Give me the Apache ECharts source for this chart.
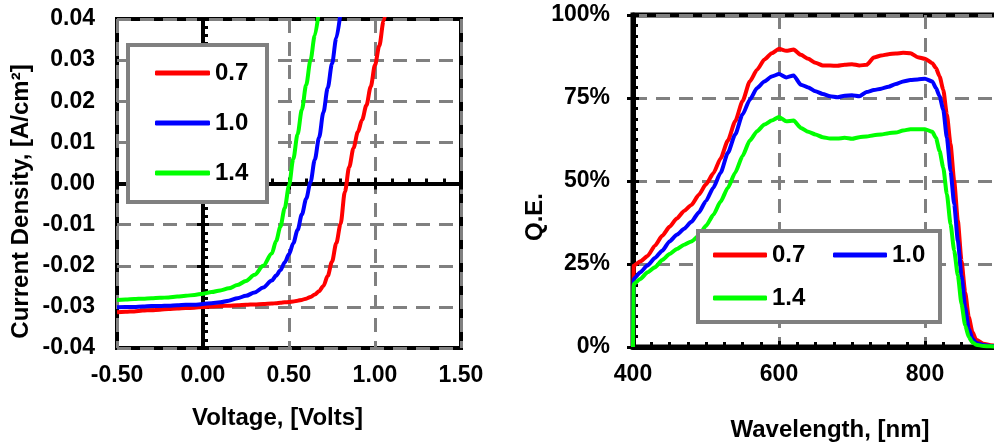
<!DOCTYPE html>
<html>
<head>
<meta charset="utf-8">
<script src="https://cdn.jsdelivr.net/npm/echarts@6/dist/echarts.min.js"></script>
<style>
html,body{margin:0;padding:0;background:#fff;}
#chart{width:994px;height:445px;}
</style>
</head>
<body>
<div id="chart"></div>
<script>
// ---------- Left chart: J-V curves ----------
const voltage = [-0.5,-0.45,-0.4,-0.35,-0.3,-0.25,-0.2,-0.15,-0.1,-0.05,0,0.05,0.1,0.15,0.2,0.25,0.3,0.35,0.4,
  0.425,0.45,0.475,0.5,0.525,0.55,0.575,0.6,0.625,0.65,0.675,0.7,0.725,0.75,0.775,0.8,0.825,0.85,0.875,0.9,0.925,0.95,0.975,1.0,1.025,1.05,1.075];
const jv07 = [-0.0313,-0.0312,-0.0311,-0.0309,-0.0308,-0.0307,-0.0305,-0.0304,-0.0303,-0.0302,-0.0300,-0.0299,-0.0298,-0.0297,-0.0296,-0.0295,-0.0294,-0.0293,-0.0292,
  -0.0291,-0.0290,-0.0289,-0.0288,-0.0287,-0.0285,-0.0283,-0.0280,-0.0276,-0.0270,-0.0262,-0.0249,-0.0225,-0.0190,-0.0145,-0.0098,-0.0020,0.0040,0.0086,0.0125,0.0155,0.0190,0.0235,0.0288,0.0335,0.0395,0.0450];
const jv10 = [-0.0301,-0.0300,-0.0300,-0.0299,-0.0298,-0.0298,-0.0297,-0.0296,-0.0295,-0.0295,-0.0293,-0.0291,-0.0289,-0.0285,-0.0279,-0.0273,-0.0265,-0.0253,-0.0236,
  -0.0224,-0.0211,-0.0192,-0.0172,-0.0145,-0.0113,-0.0075,-0.0037,0.0003,0.0058,0.0112,0.0173,0.0232,0.0291,0.0354,0.0418,null,null,null,null,null,null,null,null,null,null,null];
const jv14 = [-0.0283,-0.0282,-0.0281,-0.0280,-0.0279,-0.0278,-0.0277,-0.0275,-0.0273,-0.0271,-0.0268,-0.0264,-0.0260,-0.0255,-0.0247,-0.0237,-0.0222,-0.0200,-0.0170,
  -0.0140,-0.0105,-0.0060,-0.0005,0.0060,0.0120,0.0180,0.0240,0.0300,0.0360,0.0425,null,null,null,null,null,null,null,null,null,null,null,null,null,null,null,null];

// ---------- Right chart: quantum efficiency ----------
const wavelength = [400,401,410,420,430,440,450,460,470,480,490,500,510,520,530,540,550,560,570,580,590,600,610,620,630,640,650,660,670,680,690,700,710,720,730,740,750,760,770,780,790,800,810,
  815,820,825,830,835,840,845,850,855,860,865,870,880,890,900];
const qe07 = [0,0.245,0.258,0.274,0.305,0.335,0.362,0.387,0.410,0.428,0.458,0.490,0.523,0.568,0.622,0.680,0.740,0.800,0.835,0.866,0.885,0.898,0.892,0.896,0.880,0.868,0.856,0.848,0.848,0.847,0.850,0.852,0.848,0.850,0.872,0.878,0.882,0.884,0.886,0.885,0.873,0.868,0.855,
  0.840,0.815,0.775,0.700,0.610,0.500,0.380,0.260,0.165,0.090,0.045,0.022,0.010,0.005,0.003];
const qe10 = [0,0.205,0.225,0.246,0.268,0.290,0.318,0.338,0.356,0.377,0.405,0.440,0.480,0.525,0.585,0.640,0.700,0.745,0.780,0.800,0.815,0.822,0.812,0.818,0.790,0.782,0.770,0.762,0.755,0.752,0.757,0.758,0.755,0.768,0.774,0.778,0.784,0.792,0.800,0.804,0.806,0.808,0.800,
  0.780,0.755,0.715,0.630,0.530,0.430,0.320,0.215,0.120,0.055,0.025,0.012,0.006,0.003,0.002];
const qe14 = [0,0.190,0.205,0.225,0.240,0.262,0.280,0.295,0.308,0.318,0.335,0.365,0.398,0.438,0.480,0.525,0.575,0.622,0.650,0.670,0.682,0.693,0.680,0.682,0.660,0.648,0.640,0.632,0.628,0.628,0.630,0.627,0.632,0.634,0.638,0.640,0.644,0.646,0.652,0.656,0.656,0.656,0.648,
  0.630,0.590,0.540,0.460,0.370,0.290,0.215,0.130,0.065,0.030,0.014,0.007,0.003,0.002,0.001];

const seriesNames = ['0.7','1.0','1.4'];
const seriesColors = ['#ff0000','#0000ff','#00ff00'];
const voltTicks = {min:-0.5, max:1.5, interval:0.5};
const jTicks = {min:-0.04, max:0.04, interval:0.01};
const wlTicks = {min:400, max:1000, interval:200};
const qeTicks = {min:0, max:1, interval:0.25};

const FONT = '"Liberation Sans", Arial, sans-serif';
const txt = {fontFamily: FONT, fontSize: 23, fontWeight: 'bold', color: '#000'};
const ttl = {fontFamily: FONT, fontSize: 24, fontWeight: 'bold', color: '#000'};
const dashed = {show:true, lineStyle:{color:'#808080', width:3, type:[14,9]}};

function pairs(xs, ys){ return xs.map((x,i)=>[x, ys[i]]); }

const chart = echarts.init(document.getElementById('chart'), null, {renderer:'canvas'});

const option = {
  animation: false,
  backgroundColor: '#fff',
  grid: [
    {left:117, top:19, width:344, height:329, show:true, borderColor:'#000', borderWidth:4, backgroundColor:'rgba(0,0,0,0)', outerBoundsMode:'none', containLabel:false},
    {left:633, top:15, width:438, height:332, show:true, borderColor:'#000', borderWidth:5, backgroundColor:'rgba(0,0,0,0)', outerBoundsMode:'none', containLabel:false}
  ],
  legend: [
    {
      orient:'vertical', left:128, top:45,
      data: seriesNames, icon:'roundRect', itemWidth:55, itemHeight:5, itemGap:26,
      padding:[16,10,17,27], backgroundColor:'#fff', borderColor:'#808080', borderWidth:4,
      textStyle: Object.assign({}, ttl, {width:42, lineHeight:22}),
      selectedMode:false
    },
    {
      orient:'horizontal', left:698, top:231, width:230,
      data: seriesNames, icon:'roundRect', itemWidth:54, itemHeight:5, itemGap:19,
      padding:[12,6,12,15], backgroundColor:'#fff', borderColor:'#808080', borderWidth:4,
      textStyle: Object.assign({}, ttl, {width:42, lineHeight:24}),
      selectedMode:false
    }
  ],
  xAxis: [
    { // 0: labels, frame side
      gridIndex:0, type:'value', position:'bottom', ...voltTicks,
      axisLine:{show:false, onZero:false}, axisTick:{show:false},
      axisLabel:Object.assign({}, txt, {margin:16, formatter:v=>v.toFixed(2)}),
      splitLine: dashed,
      name:'Voltage, [Volts]', nameLocation:'middle', nameGap:58,
      nameTextStyle:Object.assign({}, ttl, {padding:[0,23,0,0]})
    },
    { // 1: zero axis, inner ticks
      gridIndex:0, type:'value', position:'bottom', ...voltTicks,
      axisLine:{show:true, onZero:true, onZeroAxisIndex:0, lineStyle:{color:'#000', width:4}},
      axisTick:{show:true, inside:true, length:6, lineStyle:{color:'#000', width:3}},
      minorTick:{show:true, splitNumber:5, length:5, lineStyle:{color:'#000', width:3}},
      axisLabel:{show:false}, splitLine:{show:false}
    },
    { // 2: zero axis, outer ticks
      gridIndex:0, type:'value', position:'bottom', ...voltTicks,
      axisLine:{show:false, onZero:true, onZeroAxisIndex:0},
      axisTick:{show:true, inside:false, length:6, lineStyle:{color:'#000', width:3}},
      axisLabel:{show:false}, splitLine:{show:false}
    },
    { // 3: right chart wavelength
      gridIndex:1, type:'value', position:'bottom', ...wlTicks,
      axisLine:{show:true, onZero:false, lineStyle:{color:'#000', width:5}},
      axisTick:{show:true, inside:true, length:6, lineStyle:{color:'#000', width:3}},
      minorTick:{show:true, splitNumber:8, length:5, lineStyle:{color:'#000', width:3}},
      axisLabel:Object.assign({}, txt, {margin:16, formatter:v=>String(v)}),
      splitLine: dashed,
      name:'Wavelength, [nm]', nameLocation:'middle', nameGap:71,
      nameTextStyle:Object.assign({}, ttl, {padding:[0,44,0,0]})
    }
  ],
  yAxis: [
    { // 0: labels
      gridIndex:0, type:'value', position:'left', ...jTicks,
      axisLine:{show:false, onZero:false}, axisTick:{show:false},
      axisLabel:Object.assign({}, txt, {margin:22, formatter:v=>v.toFixed(2)}),
      splitLine: dashed,
      name:'Current Density, [A/cm²]', nameLocation:'middle', nameGap:84,
      nameTextStyle:Object.assign({}, ttl, {padding:[0,36,0,0]})
    },
    { // 1: zero axis inner ticks
      gridIndex:0, type:'value', position:'left', ...jTicks,
      axisLine:{show:true, onZero:true, onZeroAxisIndex:0, lineStyle:{color:'#000', width:4}},
      axisTick:{show:true, inside:true, length:6, lineStyle:{color:'#000', width:3}},
      minorTick:{show:true, splitNumber:5, length:5, lineStyle:{color:'#000', width:3}},
      axisLabel:{show:false}, splitLine:{show:false}
    },
    { // 2: zero axis outer ticks
      gridIndex:0, type:'value', position:'left', ...jTicks,
      axisLine:{show:false, onZero:true, onZeroAxisIndex:0},
      axisTick:{show:true, inside:false, length:6, lineStyle:{color:'#000', width:3}},
      axisLabel:{show:false}, splitLine:{show:false}
    },
    { // 3: right chart QE with labels
      gridIndex:1, type:'value', position:'left', ...qeTicks,
      axisLine:{show:true, onZero:false, lineStyle:{color:'#000', width:5}},
      axisTick:{show:true, inside:false, length:6, lineStyle:{color:'#000', width:3}},
      axisLabel:Object.assign({}, txt, {margin:23, formatter:v=>Math.round(v*100)+'%'}),
      splitLine: dashed,
      name:'Q.E.', nameLocation:'middle', nameGap:73,
      nameTextStyle:Object.assign({}, ttl, {padding:[0,72,0,0]})
    },
    { // 4: right chart inner ticks
      gridIndex:1, type:'value', position:'left', ...qeTicks,
      axisLine:{show:false, onZero:false},
      axisTick:{show:true, inside:true, length:6, lineStyle:{color:'#000', width:3}},
      minorTick:{show:true, splitNumber:8, length:5, lineStyle:{color:'#000', width:3}},
      axisLabel:{show:false}, splitLine:{show:false}
    }
  ],
  series: []
};

const jvData = [jv07, jv10, jv14];
const qeData = [qe07, qe10, qe14];
seriesNames.forEach((name, k) => {
  option.series.push({
    name, type:'line', xAxisIndex:0, yAxisIndex:0,
    data: pairs(voltage, jvData[k]), showSymbol:false, symbol:'none',
    smooth:0.3, smoothMonotone:'x', connectNulls:false,
    lineStyle:{color:seriesColors[k], width:4}, itemStyle:{color:seriesColors[k]}
  });
});
seriesNames.forEach((name, k) => {
  option.series.push({
    name, type:'line', xAxisIndex:3, yAxisIndex:3,
    data: pairs(wavelength, qeData[k]), showSymbol:false, symbol:'none',
    smooth:0.2, smoothMonotone:'x',
    lineStyle:{color:seriesColors[k], width:4}, itemStyle:{color:seriesColors[k]}
  });
});

chart.setOption(option);
</script>
</body>
</html>
